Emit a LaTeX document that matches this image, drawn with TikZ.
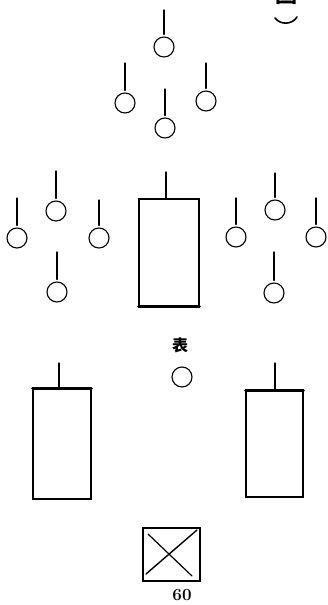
\documentclass[tikz,border=0pt]{standalone}
\usepackage{fontspec}
\newfontfamily\cjk{Noto Sans CJK TC}
\begin{document}
\begin{tikzpicture}[x=1pt,y=-1pt,line cap=round,
  seat/.style={circle,draw,line width=1.1pt,minimum size=20pt,inner sep=0pt},
  stem/.style={line width=1.1pt,shorten >=2pt},
  tablebox/.style={draw,line width=1.2pt,inner sep=0pt},
  thickedge/.style={line width=2.4pt},
  glyphlabel/.style={font=\cjk\bfseries\fontsize{16}{16}\selectfont,inner sep=0pt}]
\useasboundingbox (0,0) rectangle (327,605);
% top group
\node[seat] (t1) at (164,47) {};
\node[seat] (t2) at (125,103) {};
\node[seat] (t3) at (206,101) {};
\node[seat] (t4) at (165,128) {};
\coordinate (t1s) at (164,10);
\coordinate (t2s) at (125,63);
\coordinate (t3s) at (206,63);
\coordinate (t4s) at (165,89);
\draw[stem] (t1s) -- (t1.north);
\draw[stem] (t2s) -- (t2.north);
\draw[stem] (t3s) -- (t3.north);
\draw[stem] (t4s) -- (t4.north);
% left group
\node[seat] (l1) at (17,238) {};
\node[seat] (l2) at (56,211) {};
\node[seat] (l3) at (99,238) {};
\node[seat] (l4) at (57,292) {};
\coordinate (l1s) at (17,198);
\coordinate (l2s) at (56,171);
\coordinate (l3s) at (99,200);
\coordinate (l4s) at (57,252);
\draw[stem] (l1s) -- (l1.north);
\draw[stem] (l2s) -- (l2.north);
\draw[stem] (l3s) -- (l3.north);
\draw[stem] (l4s) -- (l4.north);
% right group
\node[seat] (r1) at (236,237) {};
\node[seat] (r2) at (275,210) {};
\node[seat] (r3) at (316,237) {};
\node[seat] (r4) at (274,293) {};
\coordinate (r1s) at (236,198);
\coordinate (r2s) at (275,173);
\coordinate (r3s) at (316,198);
\coordinate (r4s) at (274,252);
\draw[stem] (r1s) -- (r1.north);
\draw[stem] (r2s) -- (r2.north);
\draw[stem] (r3s) -- (r3.north);
\draw[stem] (r4s) -- (r4.north);
% center table
\node[tablebox,minimum width=60pt,minimum height=107pt] (c) at (169,252.5) {};
\draw[thickedge] (c.south west) -- (c.south east);
\coordinate (cs) at (166,172);
\draw[line width=1.1pt] (cs) -- (cs |- c.north);
% label and lone seat
\node[glyphlabel] (m) at (180,345) {表};
\node[seat] (s) at (182,377) {};
% lower tables
\node[tablebox,minimum width=58pt,minimum height=110pt] (L) at (62,444) {};
\draw[thickedge] (L.north west) -- (L.north east);
\coordinate (Ls) at (59,363);
\draw[line width=1.1pt] (Ls) -- (Ls |- L.north);
\node[tablebox,minimum width=57pt,minimum height=106pt] (R) at (274.5,444) {};
\draw[thickedge] (R.north west) -- (R.north east);
\coordinate (Rs) at (275,363);
\draw[line width=1.1pt] (Rs) -- (Rs |- R.north);
% crossed box
\node[draw,line width=2pt,minimum width=57pt,minimum height=53pt,inner sep=0pt] (X) at (171.5,554.5) {};
\draw[line width=1.2pt] ([shift={(6,7)}]X.north west) -- ([shift={(-9,-6)}]X.south east);
\draw[line width=1.4pt] ([shift={(4,-8)}]X.south west) -- ([shift={(-4,3)}]X.north east);
\node[font=\bfseries\fontsize{17}{17}\selectfont,inner sep=0pt] (n) at (182,595) {60};
% top-right fragment
\node[font=\cjk\bfseries\fontsize{22}{22}\selectfont,anchor=base,inner sep=0pt] (hd) at (286,2) {圖};
\draw[line width=1.6pt] (275,18) .. controls (280,25) and (292,25) .. (297,17);
\end{tikzpicture}
\end{document}
